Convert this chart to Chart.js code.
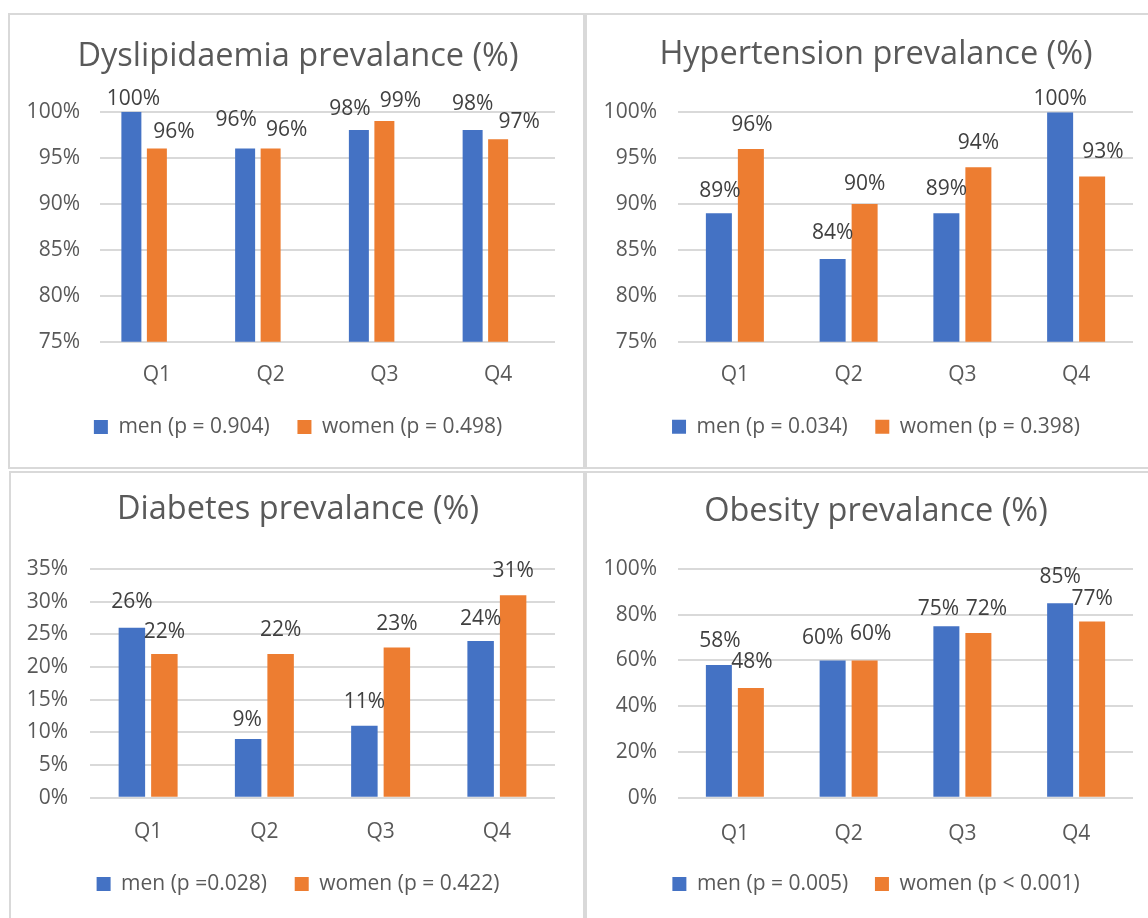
<!DOCTYPE html>
<html>
<head>
<meta charset="utf-8">
<script src="https://cdn.jsdelivr.net/npm/chart.js@4.4.1/dist/chart.umd.min.js"></script>
<style>
  html, body { margin: 0; padding: 0; background: #fff; }
  body { width: 1148px; height: 918px; position: relative; overflow: hidden; }
  .frame { position: absolute; border: 2px solid #d9d9d9; box-sizing: border-box; }
  canvas { position: absolute; }
</style>
</head>
<body>
<div class="frame" style="left:8px;top:13px;width:577px;height:456px"></div>
<div class="frame" style="left:585px;top:13px;width:600px;height:456px"></div>
<div class="frame" style="left:9px;top:471px;width:576px;height:500px"></div>
<div class="frame" style="left:585px;top:471px;width:600px;height:500px"></div>

<canvas id="dyslipidaemia" width="573" height="451" style="left:10px;top:15px"></canvas>
<canvas id="hypertension" width="570" height="451" style="left:588px;top:15px"></canvas>
<canvas id="diabetes" width="573" height="445" style="left:10px;top:473px"></canvas>
<canvas id="obesity" width="570" height="445" style="left:588px;top:473px"></canvas>

<script>
// Quartile categories shared by all four panels
const quartiles = ['Q1', 'Q2', 'Q3', 'Q4'];

// Prevalence (%) by quartile
const dyslipidaemiaMen   = [100, 96, 98, 98];
const dyslipidaemiaWomen = [96, 96, 99, 97];
const hypertensionMen    = [89, 84, 89, 100];
const hypertensionWomen  = [96, 90, 94, 93];
const diabetesMen        = [26, 9, 11, 24];
const diabetesWomen      = [22, 22, 23, 31];
const obesityMen         = [58, 60, 75, 85];
const obesityWomen       = [48, 60, 72, 77];

// Y-axis tick values
const dyslipidaemiaTicks = [75, 80, 85, 90, 95, 100];
const hypertensionTicks  = [75, 80, 85, 90, 95, 100];
const diabetesTicks      = [0, 5, 10, 15, 20, 25, 30, 35];
const obesityTicks       = [0, 20, 40, 60, 80, 100];

// Titles and legend entries
const dyslipidaemiaTitle = 'Dyslipidaemia prevalance (%)';
const hypertensionTitle  = 'Hypertension prevalance (%)';
const diabetesTitle      = 'Diabetes prevalance (%)';
const obesityTitle       = 'Obesity prevalance (%)';
const dyslipidaemiaLegend = ['men (p = 0.904)', 'women (p = 0.498)'];
const hypertensionLegend  = ['men (p = 0.034)', 'women (p = 0.398)'];
const diabetesLegend      = ['men (p =0.028)', 'women (p = 0.422)'];
const obesityLegend       = ['men (p = 0.005)', 'women (p < 0.001)'];

const MEN_COLOR = '#4472C4';
const WOMEN_COLOR = '#ED7D31';
const TEXT_COLOR = '#595959';
const GRID_COLOR = '#d9d9d9';
const FONT = "'Open Sans', sans-serif";
const TEXT_SIZE = 21;

Chart.defaults.font.family = FONT;
Chart.defaults.color = TEXT_COLOR;

// Draws the percentage above each bar; per-label pixel shifts keep labels clear of neighbours
const valueLabels = {
  id: 'valueLabels',
  afterDatasetsDraw(chart, args, opts) {
    const ctx = chart.ctx;
    ctx.save();
    ctx.font = TEXT_SIZE + 'px ' + FONT;
    ctx.fillStyle = '#404040';
    ctx.textAlign = 'center';
    ctx.textBaseline = 'middle';
    chart.data.datasets.forEach((ds, di) => {
      if (!ds.showValues) return;
      const meta = chart.getDatasetMeta(di);
      meta.data.forEach((bar, i) => {
        const v = ds.data[i];
        const s = (opts.shifts && opts.shifts[di] && opts.shifts[di][i]) || [0, 0];
        ctx.fillText(v + '%', bar.x + s[0], bar.y - 22 + s[1]);
      });
    });
    ctx.restore();
  }
};

function buildPanel(id, p) {
  const datasets = [
    { label: p.legend[0], data: p.men, backgroundColor: MEN_COLOR, showValues: true,
      barPercentage: p.barPct, categoryPercentage: p.catPct },
    { label: p.legend[1], data: p.women, backgroundColor: WOMEN_COLOR, showValues: true,
      barPercentage: p.barPct, categoryPercentage: p.catPct }
  ];
  if (p.spacer) {
    // empty slot after each pair, leaves the pair sitting left of the category centre
    datasets.push({ label: '', data: quartiles.map(() => null), backgroundColor: 'rgba(0,0,0,0)',
      barPercentage: p.barPct, categoryPercentage: p.catPct });
  }
  return new Chart(document.getElementById(id), {
    type: 'bar',
    data: { labels: quartiles, datasets },
    plugins: [valueLabels],
    options: {
      responsive: false,
      animation: false,
      devicePixelRatio: 1,
      layout: { padding: { left: p.padL, right: p.padR, top: 0, bottom: p.padB - 0.5 } },
      plugins: {
        title: {
          display: true, text: p.title, color: TEXT_COLOR,
          font: { size: 32.5, weight: 'normal', family: FONT, lineHeight: 1.2 },
          padding: { top: p.titleTop, bottom: p.titleBottom }
        },
        legend: {
          display: true, position: 'bottom',
          labels: {
            boxWidth: 14, boxHeight: 14, padding: p.legendPad - 0.5, color: TEXT_COLOR,
            font: { size: TEXT_SIZE, family: FONT },
            filter: item => item.datasetIndex < 2
          }
        },
        tooltip: { enabled: false },
        valueLabels: { shifts: p.shifts }
      },
      scales: {
        x: {
          grid: { display: false, drawTicks: false },
          border: { display: false },
          ticks: { padding: p.xPad - 0.6, color: TEXT_COLOR, font: { size: TEXT_SIZE, family: FONT } },
          afterFit: s => { s.height = p.xHeight; }
        },
        y: {
          min: p.ticks[0],
          max: p.ticks[p.ticks.length - 1],
          grid: { color: GRID_COLOR, lineWidth: 2, drawTicks: false },
          border: { display: false },
          ticks: { padding: p.yPad, color: TEXT_COLOR, font: { size: TEXT_SIZE, family: FONT },
                   callback: v => v + '%' },
          afterBuildTicks: s => { s.ticks = p.ticks.map(v => ({ value: v })); },
          afterFit: s => { s.width = p.yWidth; }
        },
        // blank right-hand gutter so the title and legend centre over the whole panel
        gutter: {
          type: 'linear', position: 'right', display: true,
          grid: { display: false, drawTicks: false },
          border: { display: false },
          ticks: { display: false },
          afterFit: s => { s.width = p.gutter; }
        }
      }
    }
  });
}

buildPanel('dyslipidaemia', {
  title: dyslipidaemiaTitle, legend: dyslipidaemiaLegend,
  men: dyslipidaemiaMen, women: dyslipidaemiaWomen, ticks: dyslipidaemiaTicks,
  spacer: true, barPct: 0.784, catPct: 0.6725,
  padL: 12, padR: 9, padB: 19, yWidth: 78, yPad: 20, gutter: 19,
  titleTop: 22.5, titleBottom: 35.2, xHeight: 47, xPad: 21.8, legendPad: 28.3,
  shifts: [[[2, 9], [-9, -6], [-9, 1], [0, -4]], [[17, 5.5], [16, 3.5], [16, 2], [21, 5]]]
});

buildPanel('hypertension', {
  title: hypertensionTitle, legend: hypertensionLegend,
  men: hypertensionMen, women: hypertensionWomen, ticks: hypertensionTicks,
  spacer: false, barPct: 0.8125, catPct: 0.5626,
  padL: 12, padR: 6, padB: 19.3, yWidth: 78, yPad: 21, gutter: 19,
  titleTop: 20.5, titleBottom: 37.8, xHeight: 47, xPad: 21.3, legendPad: 28,
  shifts: [[[1, 0], [0, -4.3], [0, -2], [0, 8.5]], [[1, -1.5], [0, 2], [0, -2], [10.7, -2.5]]]
});

buildPanel('diabetes', {
  title: diabetesTitle, legend: diabetesLegend,
  men: diabetesMen, women: diabetesWomen, ticks: diabetesTicks,
  spacer: false, barPct: 0.815, catPct: 0.559,
  padL: 12, padR: 9, padB: 14, yWidth: 68, yPad: 22, gutter: 19,
  titleTop: 17.5, titleBottom: 39.5, xHeight: 48, xPad: 22.8, legendPad: 28.3,
  shifts: [[[0, -3.8], [-1, 3], [0, -1.8], [0, 0]], [[0, 0], [0, -1.7], [0, -1.4], [0, -1.8]]]
});

buildPanel('obesity', {
  title: obesityTitle, legend: obesityLegend,
  men: obesityMen, women: obesityWomen, ticks: obesityTicks,
  spacer: false, barPct: 0.8125, catPct: 0.5626,
  padL: 12, padR: 6, padB: 14, yWidth: 78, yPad: 21, gutter: 19,
  titleTop: 19.2, titleBottom: 37.8, xHeight: 49, xPad: 24.3, legendPad: 27.3,
  shifts: [[[1, -2], [-10, 0], [-8, 4.6], [0, -4.1]], [[1, -3.7], [6, -4.3], [8, -2.2], [0, -0.8]]]
});
</script>
</body>
</html>
